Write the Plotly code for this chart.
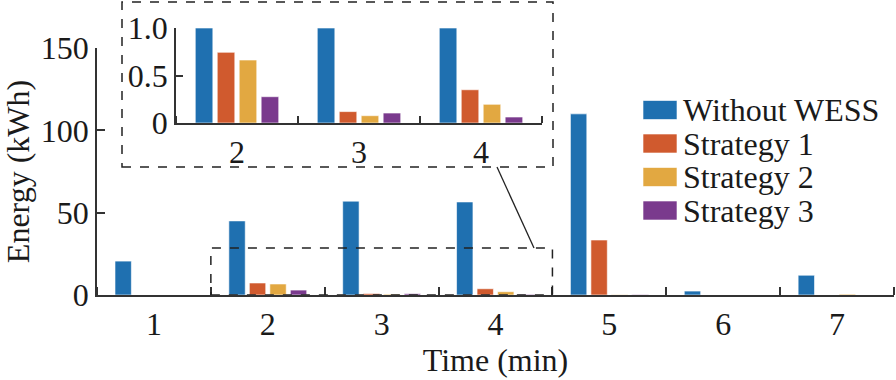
import plotly.graph_objects as go

# ---- data ----
times = [1, 2, 3, 4, 5, 6, 7]
series_names = ["Without WESS", "Strategy 1", "Strategy 2", "Strategy 3"]
without_wess = [20.6, 45.0, 57.0, 56.5, 110.0, 2.4, 12.0]
strategy_1 = [0.0, 7.3, 0.9, 3.8, 33.4, 0.0, 0.0]
strategy_2 = [0.0, 6.7, 0.5, 2.0, 0.2, 0.0, 0.5]
strategy_3 = [0.0, 3.0, 0.8, 0.4, 0.3, 0.0, 0.0]

inset_times = [2, 3, 4]
inset_without = [1.0, 1.0, 1.0]
inset_s1 = [0.744, 0.12, 0.35]
inset_s2 = [0.663, 0.077, 0.197]
inset_s3 = [0.277, 0.105, 0.063]

y_ticks = [0, 50, 100, 150]
inset_y_ticks = [0, 0.5, 1.0]
inset_y_labels = ["0", "0.5", "1.0"]

colors = ["#1F70B0", "#D05A2E", "#E2A841", "#7A3A8D"]
FONT = "Liberation Serif"
TXT = "#1a1a1a"
AX = "#333333"
FS = 32

fig = go.Figure()
main_series = [without_wess, strategy_1, strategy_2, strategy_3]
inset_series = [inset_without, inset_s1, inset_s2, inset_s3]
for name, vals, c in zip(series_names, main_series, colors):
    fig.add_trace(go.Bar(x=times, y=vals, name=name, marker_color=c,
                         marker_line=dict(color="rgba(255,255,255,0.6)", width=1),
                         showlegend=False, xaxis="x", yaxis="y"))
for name, vals, c in zip(series_names, inset_series, colors):
    fig.add_trace(go.Bar(x=inset_times, y=vals, name=name, marker_color=c,
                         marker_line=dict(color="rgba(255,255,255,0.6)", width=1),
                         showlegend=False, xaxis="x2", yaxis="y2"))

# geometry helpers (pixel -> paper), plot area: l=97, r=2, t=0, b=85
L, R, T, B, W, H = 97, 2, 0, 85, 896, 380
PW, PH = W - L - R, H - T - B
px = lambda x: (x - L) / PW
py = lambda y: (H - B - y) / PH

axis_common = dict(showline=True, linecolor=AX, linewidth=1.5, zeroline=False,
                   showgrid=False, automargin=False,
                   tickfont=dict(family=FONT, size=FS, color=TXT))

fig.update_layout(
    template="none",
    width=W, height=H,
    margin=dict(l=L, r=R, t=T, b=B, autoexpand=False),
    paper_bgcolor="white", plot_bgcolor="white",
    barmode="group", bargap=0.28, bargroupgap=0.2,
    font=dict(family=FONT, size=FS, color=TXT),
    xaxis=dict(range=[0.5, 7.5], tickmode="array", tickvals=times,
               ticktext=[str(t) for t in times], ticks="",
               minor=dict(tickmode="array", tickvals=[t + 0.5 for t in [0] + times],
                          ticks="inside", ticklen=8, tickcolor=AX, tickwidth=1.5),
               title=dict(text="Time (min)", font=dict(family=FONT, size=FS, color=TXT),
                          standoff=2),
               domain=[0, 1], anchor="y", **axis_common),
    yaxis=dict(range=[0, 150], tickmode="array", tickvals=y_ticks,
               ticks="inside", ticklen=8, tickcolor=AX, tickwidth=1.5,
               title=dict(text="Energy (kWh)", font=dict(family=FONT, size=FS, color=TXT),
                          standoff=4),
               domain=[0, py(48)], anchor="x", **axis_common),
    xaxis2=dict(range=[1.5, 4.5], tickmode="array", tickvals=inset_times,
                ticktext=[str(t) for t in inset_times], ticks="",
                minor=dict(tickmode="array", tickvals=[1.5, 2.5, 3.5, 4.5],
                           ticks="inside", ticklen=7, tickcolor=AX, tickwidth=1.5),
                domain=[px(176), px(542)], anchor="y2", **axis_common),
    yaxis2=dict(range=[0, 1.0], tickmode="array", tickvals=inset_y_ticks,
                ticktext=inset_y_labels, ticks="inside", ticklen=7,
                tickcolor=AX, tickwidth=1.5,
                domain=[py(123), py(28)], anchor="x2", **axis_common),
)

shapes = []
# inset frame
shapes.append(dict(type="rect", xref="paper", yref="paper",
                   x0=px(122), x1=px(553), y0=py(167), y1=py(2),
                   line=dict(color="#222", width=1.5, dash="dash")))
# zoom region in main axes
shapes.append(dict(type="rect", xref="x", yref="y", x0=1.5, x1=4.5, y0=0, y1=28.5,
                   line=dict(color="#222", width=1.5, dash="dash")))
# connector line
shapes.append(dict(type="line", xref="paper", yref="paper",
                   x0=px(497), y0=py(167), x1=px(534), y1=py(248),
                   line=dict(color="#222", width=1.3)))

# legend (manual, to match swatch size and row spacing)
PITCH = 33.5
rows = [110 + i * PITCH for i in range(4)]
for c, yc in zip(colors, rows):
    shapes.append(dict(type="rect", xref="paper", yref="paper",
                       x0=px(643), x1=px(677), y0=py(yc + 9.5), y1=py(yc - 9.5),
                       fillcolor=c, line=dict(color="rgba(255,255,255,0.6)", width=1)))
# one text block: base size sets the line pitch, spans set the glyph size
legend_text = "<br>".join(f"<span style='font-size:{FS}px'>{n}</span>" for n in series_names)
annotations = [dict(xref="paper", yref="paper", x=px(681), y=py(sum(rows) / 4 + 0.5),
                    text=legend_text, showarrow=False, xanchor="left", yanchor="middle",
                    align="left", font=dict(family=FONT, size=PITCH / 1.3, color=TXT))]

fig.update_layout(shapes=shapes, annotations=annotations)
fig.write_html("out.html", config={"displayModeBar": False},
               post_script="document.body.style.margin='0px';")
